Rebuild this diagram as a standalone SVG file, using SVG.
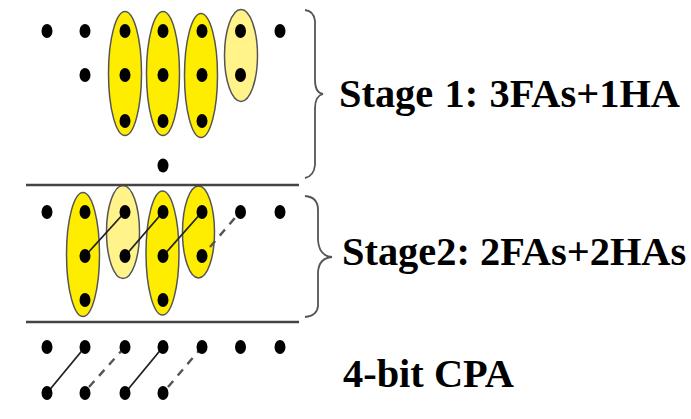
<svg xmlns="http://www.w3.org/2000/svg" width="691" height="419" viewBox="0 0 691 419">
<style>
.fa{fill:#ffed00;stroke:#555;stroke-width:1.5}
.ha{fill:#fff389;stroke:#555;stroke-width:1.5}
.d{fill:#000}
.s{stroke:#222;stroke-width:1.8;fill:none}
.da{stroke:#555;stroke-width:2.4;stroke-dasharray:8 7;fill:none}
.r{stroke:#444;stroke-width:2.4;fill:none}
.b{stroke:#555;stroke-width:1.8;fill:none}
text{font-family:"Liberation Serif","Times New Roman",serif;font-weight:bold;fill:#000;font-size:40.400px}
</style>
<defs><ellipse id="dot" class="d" rx="5.500" ry="7"/></defs>
<rect width="691" height="419" fill="#fff"/>
<g id="stage1-groups">
<ellipse class="fa" cx="125" cy="73.5" rx="16.5" ry="62"/>
<ellipse class="fa" cx="163" cy="73.5" rx="16.5" ry="62"/>
<ellipse class="fa" cx="201" cy="75.5" rx="16.5" ry="62"/>
<ellipse class="ha" cx="241" cy="55.5" rx="16.5" ry="46"/>
</g>
<g id="stage2-groups">
<ellipse class="fa" cx="83" cy="254.5" rx="16.5" ry="62"/>
<ellipse class="ha" cx="123" cy="232" rx="16.5" ry="46.5"/>
<ellipse class="fa" cx="162.5" cy="253" rx="16.5" ry="62"/>
<ellipse class="fa" cx="198.5" cy="232" rx="16" ry="46"/>
</g>
<g id="connectors">
<path class="r" d="M26 185H299M26 322H299"/>
<path class="b" d="M305 10Q314 11 315 21V80Q315 93 323 94Q315 96 315 108V165Q314 176 305 178"/>
<path class="b" d="M305 196Q318 197 318 210V240Q319 256 332 257Q319 258 318 272V306Q317 316 305 317"/>
<path class="s" d="M85 256L125 212M125 256L163 212M163 256L202 212"/>
<path class="da" d="M210 247L240 212"/>
<path class="s" d="M47 393L85 347M125 393L163 347"/>
<path class="da" d="M89 387L125 347M168 387L202 347"/>
</g>
<g id="dots">
<use href="#dot" x="47" y="31"/><use href="#dot" x="85" y="31"/><use href="#dot" x="125" y="31"/><use href="#dot" x="163" y="31"/><use href="#dot" x="202" y="31"/><use href="#dot" x="240.5" y="31"/><use href="#dot" x="280" y="31"/>
<use href="#dot" x="85" y="75"/><use href="#dot" x="125" y="75"/><use href="#dot" x="163" y="75"/><use href="#dot" x="202" y="75"/><use href="#dot" x="240.5" y="75"/>
<use href="#dot" x="125" y="121"/><use href="#dot" x="163" y="121"/><use href="#dot" x="202" y="121"/>
<use href="#dot" x="163" y="165.500"/>
<use href="#dot" x="47" y="212"/><use href="#dot" x="85" y="212"/><use href="#dot" x="125" y="212"/><use href="#dot" x="163" y="212"/><use href="#dot" x="202" y="212"/><use href="#dot" x="240.500" y="212"/><use href="#dot" x="280" y="212"/>
<use href="#dot" x="85" y="256"/><use href="#dot" x="125" y="256"/><use href="#dot" x="163" y="256"/><use href="#dot" x="202" y="256"/>
<use href="#dot" x="85" y="300"/><use href="#dot" x="163" y="300"/>
<use href="#dot" x="47" y="347"/><use href="#dot" x="85" y="347"/><use href="#dot" x="125" y="347"/><use href="#dot" x="163" y="347"/><use href="#dot" x="202" y="347"/><use href="#dot" x="240.500" y="347"/><use href="#dot" x="280" y="347"/>
<use href="#dot" x="47" y="393"/><use href="#dot" x="85" y="393"/><use href="#dot" x="125" y="393"/><use href="#dot" x="163" y="393"/>
</g>
<g id="labels">
<text x="339" y="107" word-spacing="1.200">Stage 1: 3FAs+1HA</text>
<text x="342" y="264.500">Stage2: 2FAs+2HAs</text>
<text x="343" y="386.500">4-bit CPA</text>
</g>
</svg>
